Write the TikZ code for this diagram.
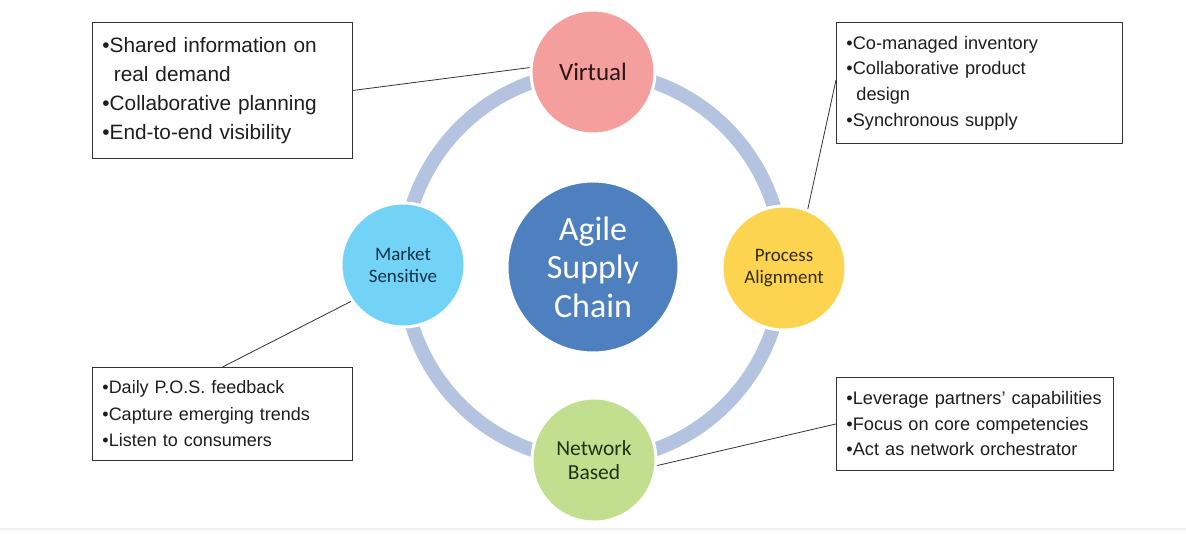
\documentclass[tikz,border=0pt]{standalone}
\usepackage{fontspec}
\setmainfont{Liberation Sans}
\newfontfamily\calib{Carlito}
\definecolor{ringc}{HTML}{B3C3E0}
\definecolor{virtc}{HTML}{F59E9E}
\definecolor{procc}{HTML}{FDD44F}
\definecolor{markc}{HTML}{72D3F7}
\definecolor{netc}{HTML}{C2DE8F}
\definecolor{agilec}{HTML}{4E7FBE}
\definecolor{txt}{HTML}{1E1E1E}
\definecolor{virtt}{HTML}{2A1616}
\definecolor{proct}{HTML}{332A08}
\definecolor{markt}{HTML}{13324A}
\definecolor{nett}{HTML}{1D3418}
\begin{document}
\begin{tikzpicture}[x=1pt,y=-1pt,
  bubble/.style={circle, fill=#1, draw=white, line width=3pt, minimum size=124pt, inner sep=0pt, align=center, text=txt, font=\calib},
  infobox/.style={draw=black!80, line width=0.9pt, fill=white, anchor=north west, align=left, text=txt, inner xsep=10pt, inner ysep=0pt},
  link/.style={draw=black!80, line width=0.8pt}]
\useasboundingbox[fill=white] (0,0) rectangle (1186,533);
\draw[black!6, line width=2pt] (0,529) -- (1186,529);
% ring
\draw[ringc, line width=14pt] (593,266) ellipse [x radius=190pt, y radius=194pt];
% centre
\node[circle, fill=agilec, draw=white, line width=3pt, minimum size=172pt, inner sep=0pt, align=center, text=white,
  font=\calib\fontsize{34}{38.5}\selectfont] (agile) at (593,267) {Agile\\Supply\\Chain};
% satellites
\node[bubble=virtc, text=virtt, font=\calib\fontsize{25}{28}\selectfont] (virt) at (593,72) {Virtual};
\node[bubble=procc, text=proct, font=\calib\fontsize{19}{21.5}\selectfont] (proc) at (784,268) {Process\\Alignment};
\node[bubble=markc, text=markt, font=\calib\fontsize{19}{22}\selectfont] (mark) at (403,265) {Market\\Sensitive};
\node[bubble=netc, text=nett, font=\calib\fontsize{21.5}{24}\selectfont] (net) at (594,460) {Network\\Based};
% boxes
\node[infobox, text width=240pt, minimum height=136pt, font=\fontsize{20.8}{29}\selectfont] (b1) at (92,22)
  {•Shared information on\\\hspace*{0.55em}real demand\\•Collaborative planning\\•End-to-end visibility};
\node[infobox, text width=266pt, minimum height=121pt, font=\fontsize{18.2}{25.7}\selectfont] (b2) at (836,22)
  {•Co-managed inventory\\•Collaborative product\\\hspace*{0.55em}design\\•Synchronous supply};
\node[infobox, text width=240pt, minimum height=93pt, font=\fontsize{18}{26.5}\selectfont] (b3) at (92,367)
  {•Daily P.O.S. feedback\\•Capture emerging trends\\•Listen to consumers};
\node[infobox, text width=257pt, minimum height=93pt, font=\fontsize{18.2}{25.5}\selectfont] (b4) at (836,377)
  {•Leverage partners' capabilities\\•Focus on core competencies\\•Act as network orchestrator};
% connectors
\draw[link] (b1.east) -- (virt.176);
\draw[link] ([yshift=3pt]b2.west) -- (proc.68);
\draw[link] (b3.north) -- (mark.215);
\draw[link] (b4.west) -- (net.-5);
\end{tikzpicture}
\end{document}
